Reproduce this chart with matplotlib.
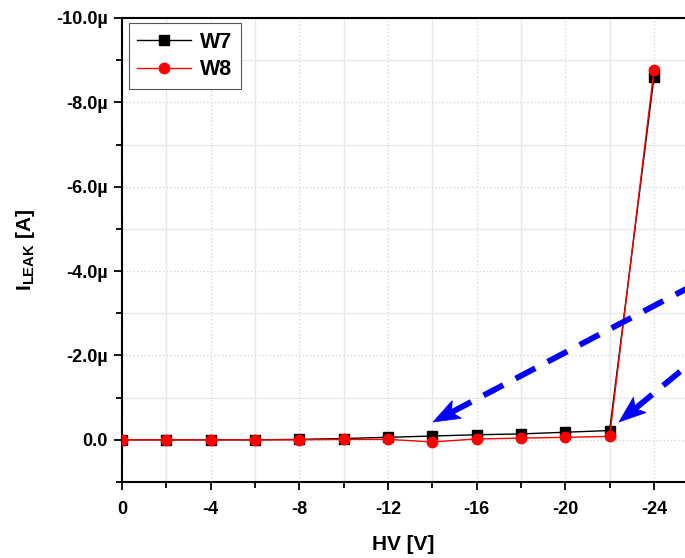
import matplotlib
matplotlib.use("Agg")
import matplotlib.pyplot as plt
import numpy as np
from matplotlib.ticker import MultipleLocator, FuncFormatter
from matplotlib.patches import Polygon

plt.rcParams['font.family'] = ['Liberation Sans', 'DejaVu Sans']
plt.rcParams['mathtext.fontset'] = 'custom'
plt.rcParams['mathtext.rm'] = 'Liberation Sans:bold'
plt.rcParams['mathtext.bf'] = 'Liberation Sans:bold'

hv = [0, -2, -4, -6, -8, -10, -12, -14, -16, -18, -20, -22, -24]
w7 = [0.0, 0.0, 0.0, 0.0, -0.01, -0.03, -0.06, -0.09, -0.12, -0.14, -0.18, -0.22, -8.6]
w8 = [0.0, 0.0, 0.0, 0.0, 0.0, -0.01, -0.01, 0.05, -0.02, -0.04, -0.06, -0.08, -8.77]

W, H = 685, 558
fig = plt.figure(figsize=(W / 100, H / 100), dpi=100)
left, right, top, bottom = 122, 685, 18, 482
ax = fig.add_axes([left / W, (H - bottom) / H, (right - left) / W, (bottom - top) / H])

ax.plot(hv, w7, color='black', lw=1.0, marker='s', ms=6.5, label='W7', zorder=3)
ax.plot(hv, w8, color='red', lw=1.0, marker='o', ms=7.5, label='W8', zorder=4)

ax.set_xlim(0, -25.4)
ax.set_ylim(1.0, -10.0)

ax.xaxis.set_major_locator(MultipleLocator(4))
ax.xaxis.set_minor_locator(MultipleLocator(2))
ax.yaxis.set_major_locator(MultipleLocator(2))
ax.yaxis.set_minor_locator(MultipleLocator(1))
ax.xaxis.set_major_formatter(FuncFormatter(lambda v, p: f"{int(round(v))}"))
ax.yaxis.set_major_formatter(FuncFormatter(lambda v, p: "0.0" if abs(v) < 1e-9 else f"{v:.1f}\u00b5"))

ax.grid(which='major', color='#d8d8d8', ls=':', lw=1.0)
ax.grid(which='minor', color='#e8e8e8', ls='-', lw=1.0)
ax.set_axisbelow(True)

for s in ['left', 'top', 'bottom']:
    ax.spines[s].set_linewidth(1.5)
ax.spines['right'].set_visible(False)

ax.tick_params(which='major', direction='out', length=6, width=1.3, labelsize=13)
ax.tick_params(axis='x', which='major', pad=8)
ax.tick_params(axis='y', which='major', pad=4)
ax.tick_params(which='minor', direction='out', length=4, width=1.3)
ax.tick_params(top=False, right=False)
for lbl in ax.get_xticklabels() + ax.get_yticklabels():
    lbl.set_fontweight('bold')

ax.set_xlabel('HV [V]', fontsize=15, fontweight='bold', labelpad=12)
ax.set_ylabel(r'$\mathrm{I}_{\mathrm{LEAK}}$ [A]', fontsize=15, fontweight='bold', labelpad=14)

leg = ax.legend(loc='upper left', bbox_to_anchor=(0.012, 0.989), borderaxespad=0,
                fancybox=False, framealpha=1,
                edgecolor='#555555', prop={'weight': 'bold', 'size': 15.5},
                handlelength=2.5, borderpad=0.4, labelspacing=0.3, handletextpad=0.4)
leg.get_frame().set_linewidth(0.8)


def arrow(tip, tail, hl=27, hw=10):
    tx, ty = tip
    sx, sy = tail
    d = np.hypot(sx - tx, sy - ty)
    ux, uy = (sx - tx) / d, (sy - ty) / d
    px, py = -uy, ux
    bx, by = tx + ux * hl, ty + uy * hl
    nx, ny = tx + ux * (hl - 6), ty + uy * (hl - 6)
    pts = [(tx, ty), (bx + px * hw, by + py * hw), (nx, ny), (bx - px * hw, by - py * hw)]
    fig.add_artist(Polygon([(x / W, 1 - y / H) for x, y in pts], closed=True,
                           facecolor='blue', edgecolor='blue', lw=0.5,
                           transform=fig.transFigure))
    fig.add_artist(plt.Line2D([(tx + ux * (hl - 6)) / W, sx / W],
                              [1 - (ty + uy * (hl - 6)) / H, 1 - sy / H],
                              color='blue', lw=4.2, ls=(0, (3.8, 2.4)),
                              dash_capstyle='butt', solid_capstyle='butt',
                              transform=fig.transFigure))


arrow((433, 422), (705, 279))
arrow((619, 422), (705, 351))

fig.savefig('out.png', dpi=100)
